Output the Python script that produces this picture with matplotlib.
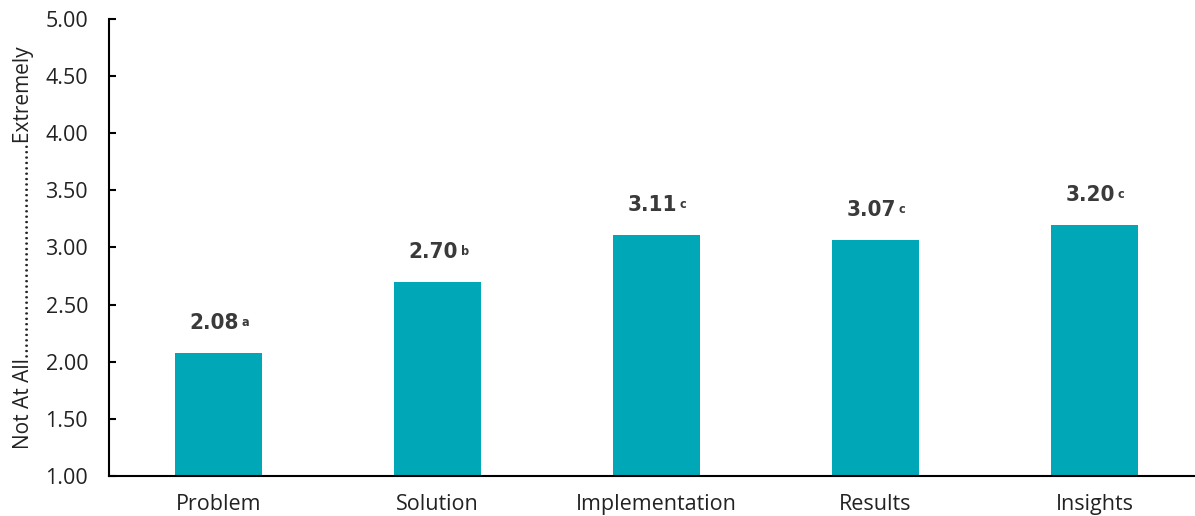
import matplotlib
matplotlib.use("Agg")
import matplotlib.pyplot as plt

categories = ["Problem", "Solution", "Implementation", "Results", "Insights"]
scores = [2.08, 2.70, 3.11, 3.07, 3.20]
sig_letters = ["a", "b", "c", "c", "c"]
y_ticks = [1.0, 1.5, 2.0, 2.5, 3.0, 3.5, 4.0, 4.5, 5.0]

BAR_COLOR = "#00A8B7"
TEXT_COLOR = "#222222"
LABEL_COLOR = "#3a3a3a"
LABEL_FONT = ["DejaVu Sans", "Roboto"]

plt.rcParams["font.family"] = ["Open Sans", "DejaVu Sans"]

fig = plt.figure(figsize=(11.95, 5.16), dpi=100)
ax = fig.add_axes([0.0912, 0.0775, 0.9163, 0.8857])

x = range(len(categories))
bars = ax.bar(x, scores, width=0.4, color=BAR_COLOR, zorder=2)

for xi, val, letter in zip(x, scores, sig_letters):
    num = ax.annotate(f"{val:.2f}", xy=(xi, val), xytext=(-3, 14),
                      textcoords="offset points", ha="center", va="bottom",
                      fontsize=16, fontweight="bold", fontstretch="condensed",
                      color=LABEL_COLOR, family=LABEL_FONT)
    ax.annotate(letter, xy=(1, 1), xycoords=num, xytext=(2, -2),
                textcoords="offset points", ha="left", va="top",
                fontsize=9, fontweight="bold", fontstretch="condensed",
                color=LABEL_COLOR, family=LABEL_FONT)

ax.set_xlim(-0.5, len(categories) - 0.5)
ax.set_ylim(1.0, 5.0)
ax.set_yticks(y_ticks)
ax.set_yticklabels([f"{t:.2f}" for t in y_ticks])
ax.set_xticks(list(x))
ax.set_xticklabels(categories)

ax.tick_params(axis="y", direction="in", length=5, width=1.5,
               labelsize=15.5, colors="black", labelcolor=TEXT_COLOR, pad=15)
ax.tick_params(axis="x", length=0, labelsize=15.5, labelcolor=TEXT_COLOR, pad=13)

for side in ["top", "right"]:
    ax.spines[side].set_visible(False)
for side in ["left", "bottom"]:
    ax.spines[side].set_linewidth(1.5)

ax.set_ylabel("Not At All" + "." * 40 + "Extremely", fontsize=15,
              color=TEXT_COLOR, labelpad=8)

fig.savefig("out.png", dpi=100)
